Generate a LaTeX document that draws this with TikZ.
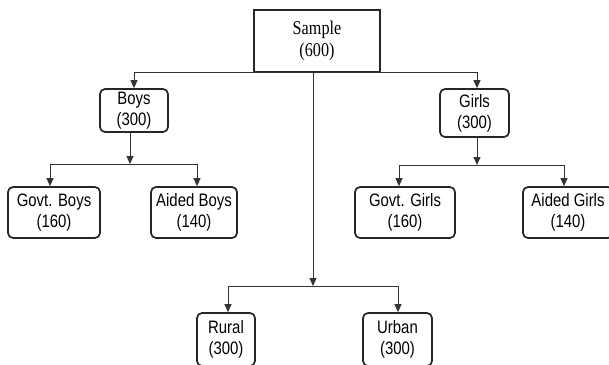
\documentclass[tikz,border=0pt]{standalone}
\usepackage{fontspec}
\setmainfont[FakeStretch=0.83]{Liberation Sans}
\newfontfamily\serifA[FakeStretch=0.83]{Liberation Serif}
\usetikzlibrary{arrows.meta}
\begin{document}
\begin{tikzpicture}[x=1pt,y=-1pt,
  box/.style={draw=black!85, line width=1.7pt, rounded corners=5pt, inner sep=0pt, align=center, font=\fontsize{18}{21}\selectfont},
  rootbox/.style={draw=black!85, line width=1.7pt, inner sep=0pt, align=center, font=\serifA\fontsize{19.5}{22}\selectfont},
  link/.style={draw=black!80, line width=1pt},
  arr/.style={link, -{Triangle[length=8pt,width=7pt]}}]
\useasboundingbox (0,0) rectangle (609,364);
\node[rootbox, minimum width=126pt, minimum height=62pt] (sample) at (317,41) {Sample\\(600)};
\node[box, minimum width=68pt, minimum height=43pt] (boys) at (134,110.5) {Boys\\(300)};
\node[box, minimum width=69pt, minimum height=48pt] (girls) at (474.5,113) {Girls\\(300)};
\node[box, minimum width=92pt, minimum height=51pt] (gboys) at (54,212.5) {Govt. Boys\\(160)};
\node[box, minimum width=86pt, minimum height=51pt] (aboys) at (194,212.5) {Aided Boys\\(140)};
\node[box, minimum width=100pt, minimum height=51pt] (ggirls) at (405,212.5) {Govt. Girls\\(160)};
\node[box, minimum width=90pt, minimum height=51pt] (agirls) at (568,212.5) {Aided Girls\\(140)};
\node[box, minimum width=58pt, minimum height=53pt] (rural) at (226,339.5) {Rural\\(300)};
\node[box, minimum width=69pt, minimum height=53pt] (urban) at (397.5,339.5) {Urban\\(300)};
% top level
\coordinate (bL) at (134,72);
\coordinate (gR) at (477,72);
\draw[link] (bL) -- (gR);
\draw[arr] (bL) -- (boys.north);
\draw[arr] (gR) -- (gR |- girls.north);
% sample to rural/urban
\coordinate (sv) at (313,72);
\coordinate (rj) at (313,286);
\draw[arr] (sv) -- (rj);
\coordinate (rl) at (228,286);
\coordinate (rr) at (398,286);
\draw[link] (rl) -- (rr);
\draw[arr] (rl) -- (rl |- rural.north);
\draw[arr] (rr) -- (rr |- urban.north);
% boys
\coordinate (bj) at (130,164);
\coordinate (bl) at (50,164);
\coordinate (br) at (197,164);
\draw[arr] (boys.south -| bj) -- (bj);
\draw[link] (bl) -- (br);
\draw[arr] (bl) -- (bl |- gboys.north);
\draw[arr] (br) -- (br |- aboys.north);
% girls
\coordinate (gj) at (477,165);
\coordinate (gl) at (399,165);
\coordinate (gr) at (564,165);
\draw[arr] (girls.south -| gj) -- (gj);
\draw[link] (gl) -- (gr);
\draw[arr] (gl) -- (gl |- ggirls.north);
\draw[arr] (gr) -- (gr |- agirls.north);
\end{tikzpicture}
\end{document}
